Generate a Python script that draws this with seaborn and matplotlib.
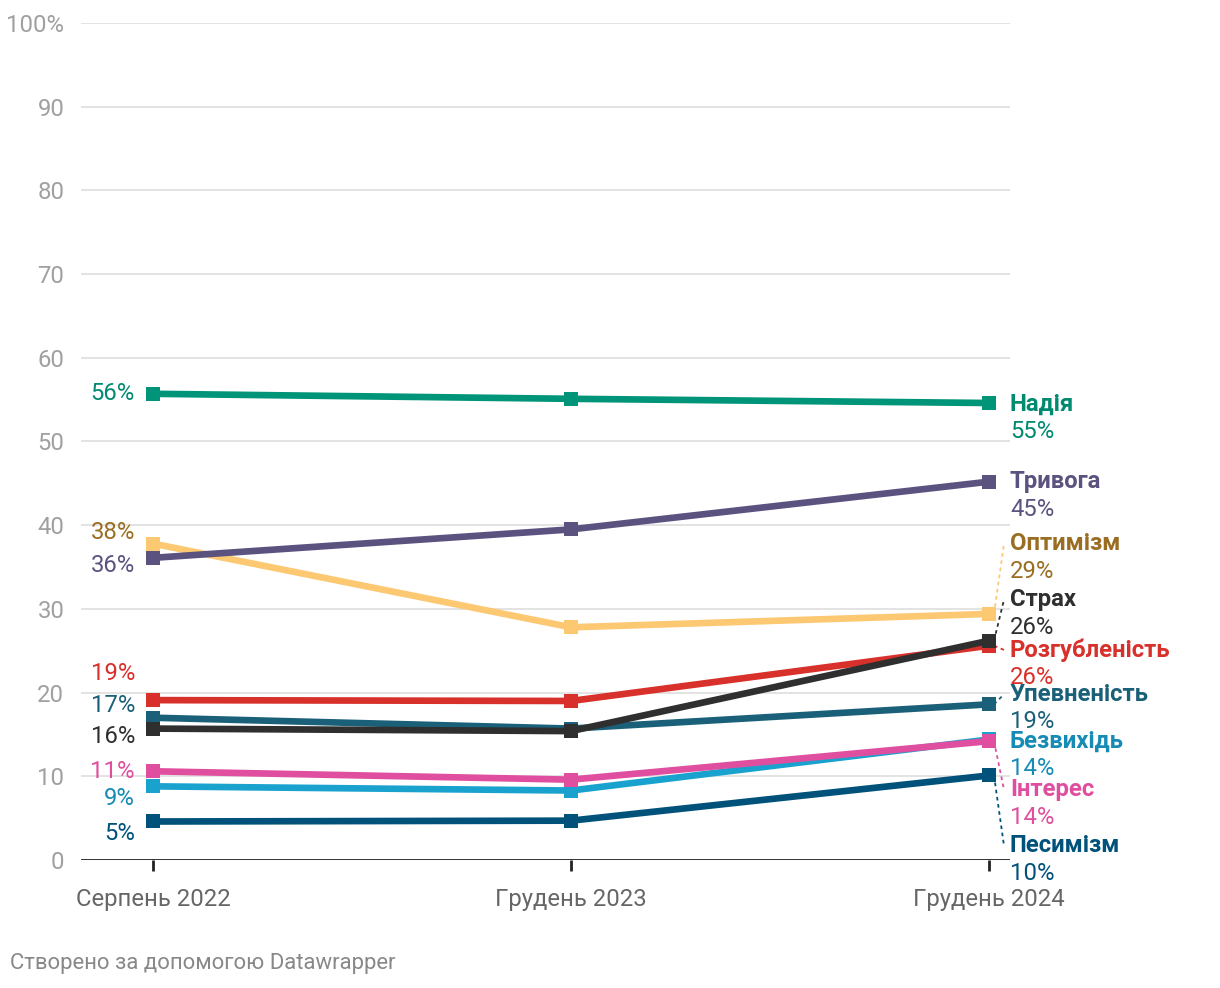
import numpy as np
import pandas as pd
import matplotlib
matplotlib.use("Agg")
import matplotlib.pyplot as plt
import seaborn as sns

# =============================================================================
# DATA — emotions survey, share of respondents (%)
# =============================================================================
periods = ["Серпень 2022", "Грудень 2023", "Грудень 2024"]

# drawing order (later ones on top)
emotions = ["Оптимізм", "Надія", "Тривога", "Розгубленість", "Упевненість",
            "Страх", "Безвихідь", "Інтерес", "Песимізм"]

optimism   = [37.8, 27.8, 29.4]
hope       = [55.7, 55.1, 54.6]
anxiety    = [36.1, 39.5, 45.2]
confusion  = [19.1, 19.0, 25.6]
confidence = [17.0, 15.7, 18.6]
fear       = [15.7, 15.4, 26.2]
despair    = [8.8, 8.3, 14.4]
interest   = [10.6, 9.6, 14.2]
pessimism  = [4.6, 4.7, 10.1]

series = [optimism, hope, anxiety, confusion, confidence,
          fear, despair, interest, pessimism]

line_colors = {
    "Оптимізм": "#fdc872", "Надія": "#009479", "Тривога": "#5c5280",
    "Розгубленість": "#d8302b", "Упевненість": "#1b6079", "Страх": "#2f2f2f",
    "Безвихідь": "#1aa2cf", "Інтерес": "#e04f9f", "Песимізм": "#00527b",
}
text_colors = dict(line_colors, **{"Оптимізм": "#9a6e22", "Безвихідь": "#168bb6",
                                   "Надія": "#008a70"})

# label placement (layout, in y-units) — avoids overlapping labels
start_label_y = {"Оптимізм": 39.1, "Надія": 55.7, "Тривога": 35.2,
                 "Розгубленість": 22.3, "Упевненість": 18.5, "Страх": 14.8,
                 "Безвихідь": 7.4, "Інтерес": 10.6, "Песимізм": 3.2}
end_label_y = {"Оптимізм": 37.8, "Надія": 54.5, "Тривога": 45.2,
               "Розгубленість": 25.1, "Упевненість": 19.8, "Страх": 31.1,
               "Безвихідь": 14.2, "Інтерес": 8.4, "Песимізм": 1.7}

rows = []
for name, vals in zip(emotions, series):
    for i, v in enumerate(vals):
        rows.append({"emotion": name, "pos": i, "value": v})
df = pd.DataFrame(rows)

# =============================================================================
# PLOT
# =============================================================================
sns.set_theme(style="white")
plt.rcParams["font.family"] = ["Roboto", "DejaVu Sans"]
FS = 17.2

W, H = 1220, 988
fig = plt.figure(figsize=(W / 100, H / 100), dpi=100)
ax = fig.add_axes([81 / W, 128 / H, 929 / W, 837 / H])

px = 418  # pixels per period step
ax.set_xlim(-72 / px, 2 + 21 / px)
ax.set_ylim(0, 100)

sns.lineplot(data=df, x="pos", y="value", hue="emotion", hue_order=emotions,
             palette=line_colors, linewidth=4.8, marker="s", markersize=10,
             markeredgewidth=0, legend=False, sort=False, ax=ax, zorder=3)

# grid & baseline
for s in ax.spines.values():
    s.set_visible(False)
ax.set_yticks(range(0, 101, 10))
ax.set_yticklabels([("100%" if t == 100 else str(t)) for t in range(0, 101, 10)])
ax.yaxis.grid(True, color="#e0e0e0", lw=1.3)
ax.xaxis.grid(False)
ax.axhline(0, color="#222222", lw=2, zorder=4)
ax.set_xticks([0, 1, 2])
ax.set_xticklabels(periods)
ax.tick_params(axis="x", length=8, width=2, color="#222222", pad=12,
               labelsize=FS, labelcolor="#666666", direction="out", bottom=True)
ax.tick_params(axis="y", length=0, pad=12, labelsize=FS, labelcolor="#a0a0a0")
ax.set_xlabel("")
ax.set_ylabel("")

# value labels at start
for name, vals in zip(emotions, series):
    ax.text(-18 / px, start_label_y[name], f"{vals[0]:.0f}%", ha="right",
            va="center", fontsize=FS, color=text_colors[name], clip_on=False)

# name + value labels at end with dotted leaders
x_lab = 2 + 21 / px
for name, vals in zip(emotions, series):
    ly = end_label_y[name]
    ax.text(x_lab, ly, name, ha="left", va="center", fontsize=FS,
            fontweight="bold", color=text_colors[name], clip_on=False)
    ax.text(x_lab, ly - 3.3, f"{vals[-1]:.0f}%", ha="left", va="center",
            fontsize=FS, color=text_colors[name], clip_on=False)
    if abs(ly - vals[-1]) > 0.4:
        ax.plot([2 + 5 / px, 2 + 15 / px], [vals[-1], ly], color=line_colors[name],
                lw=1.3, ls=(0, (2, 2)), clip_on=False, zorder=2)

fig.text(10 / W, 1 - 963 / H, "Створено за допомогою Datawrapper",
         ha="left", va="center", fontsize=15.9, color="#888888")

fig.savefig("out.png", dpi=100)
